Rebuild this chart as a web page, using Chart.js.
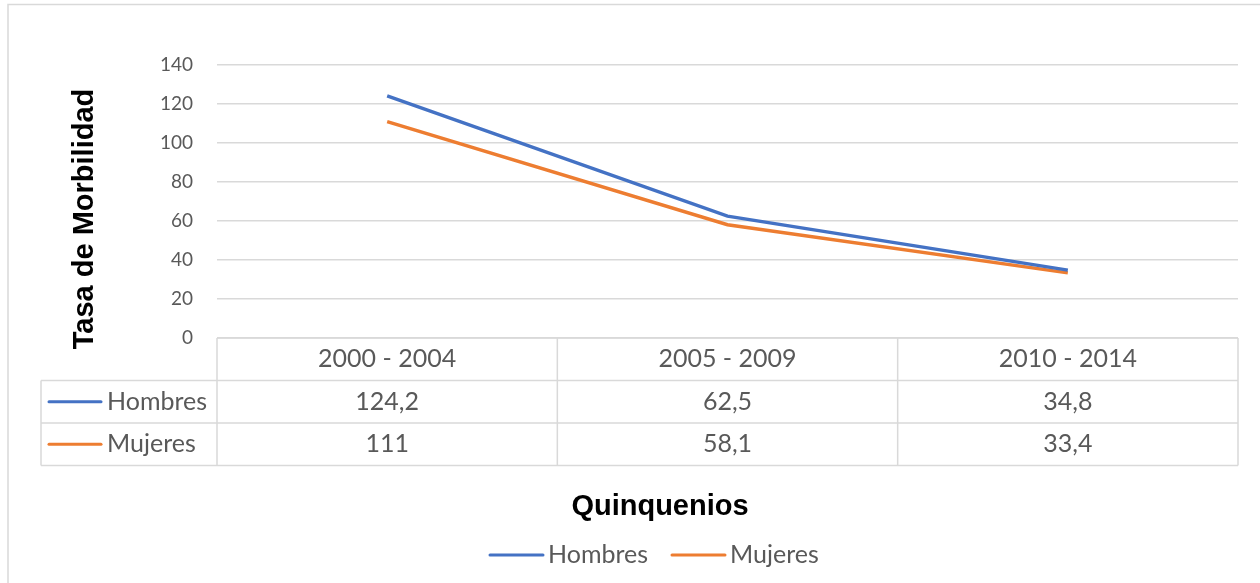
<!DOCTYPE html>
<html lang="es">
<head>
<meta charset="UTF-8">
<title>Tasa de Morbilidad por quinquenios</title>
<script src="https://cdn.jsdelivr.net/npm/chart.js"></script>
<style>
    html, body { margin: 0; padding: 0; background: #fff; }
    .chart-container { position: relative; width: 1260px; height: 583px; }
</style>
</head>
<body>
<div class="chart-container">
    <canvas id="morbChart"></canvas>
</div>
<script>
    // data
    const quinquenios = ['2000 - 2004', '2005 - 2009', '2010 - 2014'];
    const hombres = [124.2, 62.5, 34.8];
    const mujeres = [111, 58.1, 33.4];
    const yMin = 0, yMax = 140, yStep = 20;

    const textGray = '#595959';
    const lineGray = '#d9d9d9';
    const blue = '#4472C4';
    const orange = '#ED7D31';
    const bodyFont = 'Lato, "Open Sans", sans-serif';
    const boldFont = '"Liberation Sans", Arial, sans-serif';

    const fmt = v => String(v).replace('.', ',');

    // draws the outer frame, axis titles, data table and bottom legend
    const extrasPlugin = {
        id: 'extras',
        afterDraw(chart) {
            const { ctx, chartArea, scales } = chart;
            const x = scales.x;
            const left = chartArea.left, right = chartArea.right, top0 = chartArea.bottom;
            const rowH = 42.5;
            const tableLeft = 41;
            const colW = x.getPixelForValue(1) - x.getPixelForValue(0);

            ctx.save();

            // frame
            ctx.strokeStyle = lineGray;
            ctx.lineWidth = 1.5;
            ctx.beginPath();
            ctx.moveTo(8, 583); ctx.lineTo(8, 4.5); ctx.lineTo(1260, 4.5);
            ctx.stroke();

            // table lines
            ctx.beginPath();
            ctx.moveTo(left, top0); ctx.lineTo(right, top0);
            for (let r = 1; r <= 3; r++) {
                ctx.moveTo(tableLeft, top0 + r * rowH);
                ctx.lineTo(right, top0 + r * rowH);
            }
            ctx.moveTo(tableLeft, top0 + rowH); ctx.lineTo(tableLeft, top0 + 3 * rowH);
            for (let c = 0; c <= quinquenios.length; c++) {
                const cx = x.getPixelForValue(c) - colW / 2;
                ctx.moveTo(cx, top0); ctx.lineTo(cx, top0 + 3 * rowH);
            }
            ctx.stroke();

            // table text
            ctx.fillStyle = textGray;
            ctx.font = '25px ' + bodyFont;
            ctx.textAlign = 'center';
            ctx.textBaseline = 'middle';
            quinquenios.forEach((q, i) => {
                const cx = x.getPixelForValue(i);
                ctx.fillText(q, cx, top0 + rowH * 0.5);
                ctx.fillText(fmt(hombres[i]), cx, top0 + rowH * 1.5);
                ctx.fillText(fmt(mujeres[i]), cx, top0 + rowH * 2.5);
            });

            // series keys inside the table
            chart.data.datasets.forEach((ds, k) => {
                const cy = top0 + rowH * (1.5 + k);
                ctx.strokeStyle = ds.borderColor;
                ctx.lineWidth = 3;
                ctx.lineCap = 'round';
                ctx.beginPath(); ctx.moveTo(49, cy); ctx.lineTo(101, cy); ctx.stroke();
                ctx.textAlign = 'left';
                ctx.fillText(ds.label, 107, cy);
            });

            // bottom legend
            const legendY = 555;
            const legendX = [490, 672];
            chart.data.datasets.forEach((ds, k) => {
                const lx = legendX[k];
                ctx.strokeStyle = ds.borderColor;
                ctx.beginPath(); ctx.moveTo(lx, legendY); ctx.lineTo(lx + 53, legendY); ctx.stroke();
                ctx.textAlign = 'left';
                ctx.fillText(ds.label, lx + 58, legendY);
            });

            // axis titles
            ctx.fillStyle = '#000';
            ctx.font = 'bold 29px ' + boldFont;
            ctx.textAlign = 'center';
            ctx.fillText('Quinquenios', 660, 507);

            ctx.translate(85, 219);
            ctx.rotate(-Math.PI / 2);
            ctx.fillText('Tasa de Morbilidad', 0, 0);

            ctx.restore();
        }
    };

    const ctx = document.getElementById('morbChart').getContext('2d');
    new Chart(ctx, {
        type: 'line',
        data: {
            labels: quinquenios,
            datasets: [
                {
                    label: 'Hombres',
                    data: hombres,
                    borderColor: blue,
                    backgroundColor: blue,
                    borderWidth: 3.5,
                    pointRadius: 0,
                    tension: 0,
                },
                {
                    label: 'Mujeres',
                    data: mujeres,
                    borderColor: orange,
                    backgroundColor: orange,
                    borderWidth: 3.5,
                    pointRadius: 0,
                    tension: 0,
                },
            ],
        },
        options: {
            responsive: true,
            maintainAspectRatio: false,
            animation: false,
            layout: { padding: { left: 0, right: 22, top: 65, bottom: 245 } },
            plugins: {
                legend: { display: false },
                tooltip: { enabled: false },
            },
            scales: {
                x: {
                    display: false,
                    offset: true,
                },
                y: {
                    min: yMin,
                    max: yMax,
                    ticks: {
                        stepSize: yStep,
                        color: textGray,
                        font: { family: bodyFont, size: 19 },
                        padding: 24,
                    },
                    grid: { color: lineGray, lineWidth: 1.5, drawTicks: false },
                    border: { display: false },
                    afterFit(scale) { scale.width = 217; },
                },
            },
        },
        plugins: [extrasPlugin],
    });
</script>
</body>
</html>
